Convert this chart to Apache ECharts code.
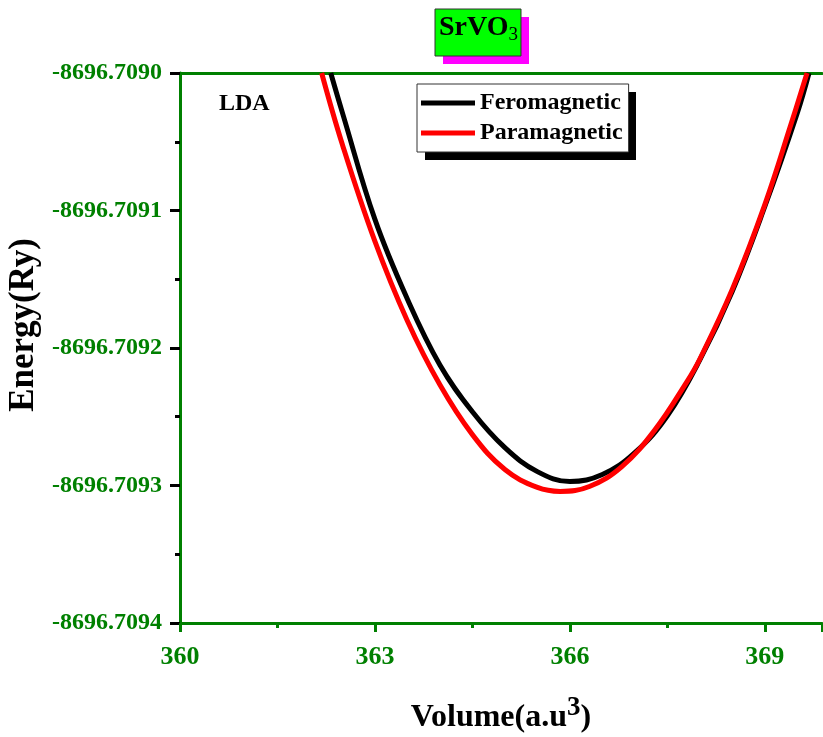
<!DOCTYPE html>
<html>
<head>
<meta charset="utf-8">
<title>SrVO3 LDA</title>
<script src="https://cdn.jsdelivr.net/npm/echarts@6/dist/echarts.min.js"></script>
<style>
  html, body { margin: 0; padding: 0; background: #fff; }
  #chart { width: 823px; height: 737px; }
</style>
</head>
<body>
<div id="chart"></div>
<script>
// values
var volumeFero = [362.32, 362.5, 363.0, 363.5, 364.0, 364.5, 365.0, 365.5, 366.0,
  366.5, 367.0, 367.5, 368.0, 368.5, 369.0, 369.5, 369.68]
var energyFero = [-8696.7090000, -8696.7090290, -8696.7091065, -8696.7091645, -8696.7092123,
  -8696.7092464, -8696.7092725, -8696.7092899, -8696.7092971, -8696.7092920, -8696.7092761,
  -8696.7092493, -8696.7092087, -8696.7091587, -8696.7090971, -8696.7090290, -8696.7090000]
var volumePara = [362.18, 362.5, 363.0, 363.5, 364.0, 364.5, 365.0, 365.5, 365.85,
  366.3, 366.8, 367.3, 367.8, 368.0, 368.5, 369.0, 369.4, 369.65]
var energyPara = [-8696.7090000, -8696.7090522, -8696.7091225, -8696.7091804, -8696.7092268,
  -8696.7092630, -8696.7092884, -8696.7093014, -8696.7093043, -8696.7093007, -8696.7092862,
  -8696.7092601, -8696.7092246, -8696.7092080, -8696.7091572, -8696.7090957, -8696.7090377,
  -8696.7090000]
var seriesNames = ['Feromagnetic', 'Paramagnetic']
var seriesColors = ['#000000', '#ff0000']

var font = 'Liberation Serif, Times New Roman, serif'
var green = '#008000'

function pairs(xs, ys) {
  return xs.map(function (x, i) { return [x, ys[i]] })
}

var chart = echarts.init(document.getElementById('chart'))
chart.setOption({
  animation: false,
  grid: { left: 180, top: 73, right: 1, bottom: 114, containLabel: false, outerBoundsMode: 'none' },
  legend: {
    orient: 'vertical',
    left: 417,
    top: 84,
    z: 6,
    backgroundColor: '#fff',
    borderColor: '#333',
    borderWidth: 1,
    padding: [7, 6, 7, 4],
    itemWidth: 54,
    itemHeight: 5,
    itemGap: 6,
    textStyle: { fontFamily: font, fontWeight: 'bold', fontSize: 24, color: '#000' },
    data: seriesNames.map(function (n) { return { name: n, icon: 'rect' } })
  },
  graphic: [
    { type: 'rect', z: 5, shape: { x: 425, y: 92, width: 211, height: 68 }, style: { fill: '#000' } },
    { type: 'rect', shape: { x: 443, y: 17, width: 86, height: 47 }, style: { fill: '#ff00ff' } },
    { type: 'rect', shape: { x: 435, y: 9, width: 86, height: 47 }, style: { fill: '#00ff00', stroke: '#333', lineWidth: 1 } },
    {
      type: 'text', left: 439, top: 14,
      style: {
        text: 'SrVO{sub|3}',
        font: 'bold 28px ' + font,
        fill: '#000',
        rich: { sub: { font: '19px ' + font, padding: [14, 0, 0, 0] } }
      }
    },
    { type: 'text', left: 219, top: 92, style: { text: 'LDA', font: 'bold 24px ' + font, fill: '#000' } }
  ],
  xAxis: [{
    type: 'value',
    min: 360,
    max: 369.88,
    interval: 3,
    name: 'Volume(a.u{sup|3})',
    nameLocation: 'middle',
    nameGap: 72,
    nameTextStyle: {
      fontFamily: font, fontWeight: 'bold', fontSize: 32, color: '#000',
      rich: { sup: { fontFamily: font, fontWeight: 'bold', fontSize: 27, padding: [0, 0, 18, 0] } }
    },
    axisLine: { lineStyle: { color: green, width: 3 } },
    axisTick: { length: 9, lineStyle: { color: green, width: 3 } },
    minorTick: { show: true, splitNumber: 2, length: 5, lineStyle: { color: green, width: 3 } },
    axisLabel: {
      margin: 21,
      fontFamily: font, fontWeight: 'bold', fontSize: 26, color: green,
      showMaxLabel: false
    },
    splitLine: { show: false }
  }, {
    type: 'value',
    position: 'top',
    min: 360,
    max: 369.88,
    axisLine: { lineStyle: { color: green, width: 3 } },
    axisTick: { show: false },
    axisLabel: { show: false },
    splitLine: { show: false }
  }],
  yAxis: {
    type: 'value',
    min: -8696.7094,
    max: -8696.7090,
    interval: 0.0001,
    name: 'Energy(Ry)',
    nameLocation: 'middle',
    nameGap: 135,
    nameTextStyle: {
      fontFamily: font, fontWeight: 'bold', fontSize: 35, color: '#000',
      padding: [0, 0, 0, 46]
    },
    axisLine: { show: true, lineStyle: { color: green, width: 3 } },
    axisTick: { length: 10, lineStyle: { color: '#000', width: 3 } },
    minorTick: { show: true, splitNumber: 2, length: 5, lineStyle: { color: '#000', width: 3 } },
    axisLabel: {
      margin: 18,
      fontFamily: font, fontWeight: 'bold', fontSize: 24, color: green,
      formatter: function (v) { return v.toFixed(4) }
    },
    splitLine: { show: false }
  },
  series: [{
    name: seriesNames[0],
    type: 'line',
    data: pairs(volumeFero, energyFero),
    smooth: 0.4,
    symbol: 'none',
    color: seriesColors[0],
    lineStyle: { width: 5, color: seriesColors[0] }
  }, {
    name: seriesNames[1],
    type: 'line',
    data: pairs(volumePara, energyPara),
    smooth: 0.4,
    symbol: 'none',
    color: seriesColors[1],
    lineStyle: { width: 5, color: seriesColors[1] }
  }]
})
</script>
</body>
</html>
